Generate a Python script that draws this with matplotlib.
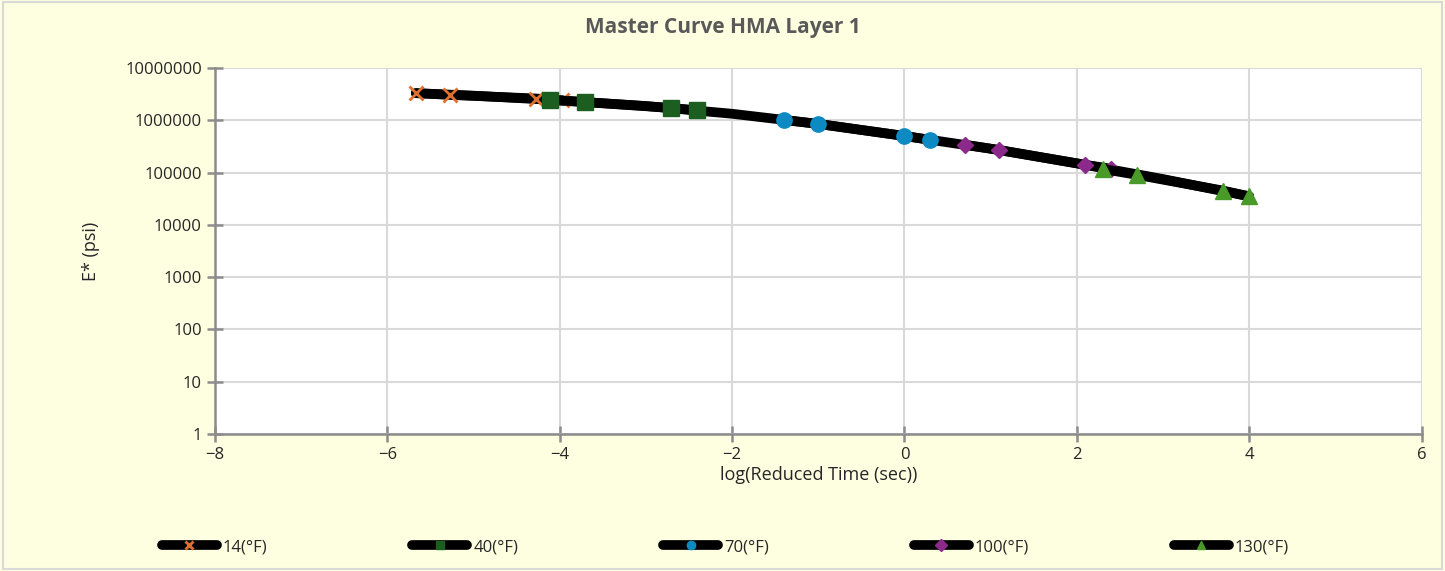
import matplotlib
matplotlib.use("Agg")
import matplotlib.pyplot as plt
from matplotlib.patches import Rectangle

plt.rcParams['font.family'] = ['Open Sans', 'DejaVu Sans']

labels = ["14(°F)", "40(°F)", "70(°F)", "100(°F)", "130(°F)"]
x14 = [-5.67, -5.27, -4.27, -3.97]
y14 = [3.3e6, 3.05e6, 2.6e6, 2.4e6]
x40 = [-4.11, -3.71, -2.71, -2.41]
y40 = [2.45e6, 2.22e6, 1.72e6, 1.55e6]
x70 = [-1.40, -1.00, 0.00, 0.30]
y70 = [1.01e6, 8.5e5, 5.0e5, 4.2e5]
x100 = [0.70, 1.10, 2.10, 2.40]
y100 = [3.4e5, 2.7e5, 1.4e5, 1.18e5]
x130 = [2.30, 2.70, 3.70, 4.00]
y130 = [1.17e5, 9.0e4, 4.5e4, 3.5e4]

# fitted master curve (black line, not in legend)
master_x = [-5.67, -5.0, -4.0, -3.0, -2.0, -1.0, 0.0, 1.0, 2.0, 3.0, 4.0]
master_y = [3.3e6, 2.95e6, 2.4e6, 1.87e6, 1.33e6, 8.5e5, 5.0e5, 2.85e5, 1.5e5, 7.5e4, 3.5e4]

xs = [x14, x40, x70, x100, x130]
ys = [y14, y40, y70, y100, y130]
markers = ['x', 's', 'o', 'D', '^']
colors = ['#E0702E', '#1B5E20', '#0E8AC2', '#8B2A8B', '#4A9A2A']
msizes = [10, 11, 11, 8, 11]

fig = plt.figure(figsize=(14.45, 5.71), dpi=100)
fig.patch.set_facecolor('#FEFEE0')
fig.patches.append(Rectangle((0.002, 0.004), 0.996, 0.992, transform=fig.transFigure,
                             fill=False, edgecolor='#D9D9D9', linewidth=1.5))

ax = fig.add_axes([0.1488, 0.240, 0.835, 0.641])
ax.set_facecolor('white')

ax.plot(master_x, master_y, color='black', linewidth=7, solid_capstyle='round', zorder=2)
for i in range(5):
    ax.plot(xs[i], ys[i], color='black', linewidth=7, solid_capstyle='round',
            marker=markers[i], markersize=msizes[i], markerfacecolor=colors[i],
            markeredgecolor=colors[i], markeredgewidth=2 if markers[i] == 'x' else 1,
            label=labels[i], zorder=3 + i)

ax.set_yscale('log')
ax.set_ylim(1, 1e7)
ax.set_xlim(-8, 6)
ax.set_xticks([-8, -6, -4, -2, 0, 2, 4, 6])
ax.set_yticks([10 ** k for k in range(8)])
ax.set_yticklabels([str(10 ** k) for k in range(8)])
ax.yaxis.set_minor_locator(matplotlib.ticker.NullLocator())
ax.grid(True, color='#D9D9D9', linewidth=1.5, zorder=0)
ax.set_axisbelow(True)
for s in ['top', 'right']:
    ax.spines[s].set_visible(False)
for s in ['left', 'bottom']:
    ax.spines[s].set_color('#8C8C8C')
    ax.spines[s].set_linewidth(1.8)
ax.tick_params(axis='both', direction='inout', length=11, width=1.8, color='#8C8C8C',
               labelsize=12, labelcolor='#262626', pad=4)

ax.set_xlabel('log(Reduced Time (sec))', fontsize=13, color='#262626', labelpad=2)
ax.set_ylabel('E* (psi)', fontsize=13, color='#262626', labelpad=18)
fig.text(0.5, 1 - 27 / 571, 'Master Curve HMA Layer 1', ha='center', va='center',
         fontsize=15, fontweight='bold', color='#595959')

leg = fig.legend(loc='center', bbox_to_anchor=(0.502, 1 - 547 / 571), ncol=5, frameon=False,
                 handlelength=3.3, handletextpad=0.35, columnspacing=8.7, fontsize=12,
                 labelcolor='#262626')
for line in leg.get_lines():
    line.set_markersize(6)
    line.set_linewidth(7)

fig.savefig('out.png', dpi=100, facecolor=fig.get_facecolor())
